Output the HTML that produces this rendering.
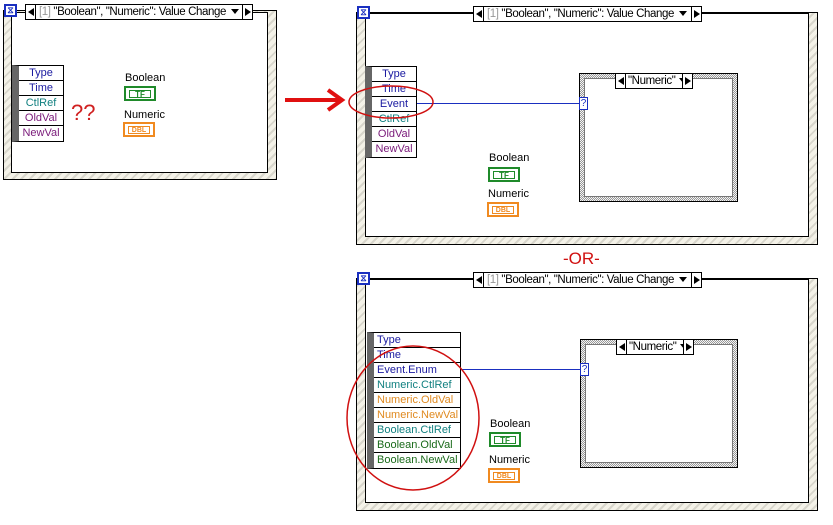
<!DOCTYPE html>
<html><head><meta charset="utf-8"><style>
*{margin:0;padding:0;box-sizing:border-box}
body{width:833px;height:525px;background:#fff;position:relative;overflow:hidden;font-family:"Liberation Sans",sans-serif}
.a{position:absolute}
.frame{position:absolute;border:1px solid #000;background:repeating-linear-gradient(135deg,#f4f2e8 0 4px,#d8d6cc 4px 6px)}
.inner{position:absolute;background:#fff;border:1px solid #000}
.title{position:absolute;height:16px;background:#fff;border:1px solid #000;font-size:11.5px;letter-spacing:-0.4px;line-height:14px;white-space:nowrap;overflow:hidden}
.title .l,.title .r{position:absolute;top:0;width:10px;height:14px;background:#fff}
.title .l{left:0;border-right:1px solid #000}
.title .r{right:0;border-left:1px solid #000}
.title .l:after{content:"";position:absolute;left:2px;top:3px;border-right:6px solid #000;border-top:4px solid transparent;border-bottom:4px solid transparent}
.title .r:after{content:"";position:absolute;left:2px;top:3px;border-left:6px solid #000;border-top:4px solid transparent;border-bottom:4px solid transparent}
.title .t{position:absolute;left:13px;top:0}
.dn{display:inline-block;width:0;height:0;border-top:5px solid #000;border-left:4px solid transparent;border-right:4px solid transparent;margin-left:5px;vertical-align:1px}
.icon{position:absolute;width:13px;height:13px;background:#fff;border:2px solid #1a2fc0;color:#1a2fc0;font-size:9px;line-height:9px;text-align:center;font-weight:bold}
.list{position:absolute;border:1px solid #000;border-left:7px solid #666;background:#fff}
.list div{height:15px;border-bottom:1px solid #000;font-size:11px;line-height:14px;text-align:center;white-space:nowrap}
.list div:last-child{border-bottom:none}
.lbl{position:absolute;font-size:11px}
.tf{position:absolute;width:32px;height:15px;border:2px solid #1f8a2a;background:#fff;}
.tf span{position:absolute;left:3px;top:2px;width:22px;height:8px;border:1px solid #1f8a2a;font-size:8px;font-weight:bold;color:#1f8a2a;line-height:7px;text-align:center}
.dbl{position:absolute;width:32px;height:15px;border:2px solid #f08a20;background:#fff}
.dbl span{position:absolute;left:3px;top:2px;width:22px;height:8px;border:1px solid #f08a20;font-size:7px;font-weight:bold;color:#f08a20;line-height:7px;text-align:center}
.case{position:absolute;border:1px solid #000;background:repeating-conic-gradient(#999 0 25%,#f4f4f4 0 50%) 0 0/2px 2px}
.case i{position:absolute;left:4px;top:4px;right:4px;bottom:4px;background:#fff;border:1px solid #777}
.q{position:absolute;width:9px;height:13px;border:1px solid #1a2fc0;background:#fff;color:#1a2fc0;font-size:10px;line-height:11px;text-align:center}
.wire{position:absolute;height:1px;background:#1a2fc0}
.b{color:#1a1aa0}.c{color:#118080}.p{color:#7a1a7a}.o{color:#e08a20}.g{color:#1a6a1a}
</style></head><body>

<!-- Box 1 -->
<div class="frame" style="left:3px;top:10px;width:274px;height:170px"></div>
<div class="inner" style="left:11px;top:12px;width:257px;height:161px"></div>
<div class="icon" style="left:4px;top:4px">⧖</div>
<div class="a" style="left:17px;top:12px;width:8px;height:1px;background:#000"></div>
<div class="title" style="left:25px;top:4px;width:228px"><div class="l"></div><div class="t"><span style="color:#999">[1]</span> "Boolean", "Numeric": Value Change<span class="dn"></span></div><div class="r"></div></div>
<div class="list" style="left:12px;top:65px;width:52px"><div class="b">Type</div><div class="b">Time</div><div class="c">CtlRef</div><div class="p">OldVal</div><div class="p">NewVal</div></div>
<div class="a" style="left:71px;top:100px;font-size:22px;color:#d02020">??</div>
<div class="lbl" style="left:125px;top:72px">Boolean</div>
<div class="tf" style="left:124px;top:86px"><span>TF</span></div>
<div class="lbl" style="left:124px;top:109px">Numeric</div>
<div class="dbl" style="left:123px;top:122px"><span>DBL</span></div>

<!-- arrow -->
<svg class="a" style="left:280px;top:85px" width="70" height="30"><line x1="5" y1="15" x2="60" y2="15" stroke="#e01010" stroke-width="4"/><polyline points="48,5 62,15 48,25" fill="none" stroke="#e01010" stroke-width="4"/></svg>

<!-- Box 2 -->
<div class="frame" style="left:356px;top:12px;width:462px;height:233px"></div>
<div class="inner" style="left:365px;top:13px;width:444px;height:224px"></div>
<div class="icon" style="left:357px;top:6px">⧖</div>
<div class="title" style="left:473px;top:6px;width:229px"><div class="l"></div><div class="t"><span style="color:#999">[1]</span> "Boolean", "Numeric": Value Change<span class="dn"></span></div><div class="r"></div></div>
<div class="list" style="left:365px;top:66px;width:52px"><div class="b">Type</div><div class="b">Time</div><div class="b">Event</div><div class="c">CtlRef</div><div class="p">OldVal</div><div class="p">NewVal</div></div>
<div class="wire" style="left:417px;top:103px;width:163px"></div>
<div class="case" style="left:579px;top:73px;width:159px;height:129px"><i></i></div>
<div class="title" style="left:615px;top:73px;width:78px"><div class="l"></div><div class="t" style="left:12px">"Numeric"<span class="dn" style="margin-left:4px"></span></div><div class="r"></div></div>
<div class="q" style="left:579px;top:97px">?</div>
<div class="lbl" style="left:489px;top:152px">Boolean</div>
<div class="tf" style="left:488px;top:167px"><span>TF</span></div>
<div class="lbl" style="left:488px;top:188px">Numeric</div>
<div class="dbl" style="left:487px;top:202px"><span>DBL</span></div>
<svg class="a" style="left:345px;top:82px" width="95" height="40"><ellipse cx="46" cy="20" rx="42" ry="16" fill="none" stroke="#d01010" stroke-width="1.5"/></svg>

<div class="a" style="left:563px;top:249px;font-size:17px;color:#d01010">-OR-</div>

<!-- Box 3 -->
<div class="frame" style="left:356px;top:278px;width:462px;height:233px"></div>
<div class="inner" style="left:365px;top:279px;width:444px;height:224px"></div>
<div class="icon" style="left:357px;top:272px">⧖</div>
<div class="title" style="left:473px;top:272px;width:229px"><div class="l"></div><div class="t"><span style="color:#999">[1]</span> "Boolean", "Numeric": Value Change<span class="dn"></span></div><div class="r"></div></div>
<div class="list" style="left:367px;top:332px;width:94px"><div class="b" style="text-align:left;padding-left:3px">Type</div><div class="b" style="text-align:left;padding-left:3px">Time</div><div class="b" style="text-align:left;padding-left:3px">Event.Enum</div><div class="c" style="text-align:left;padding-left:3px">Numeric.CtlRef</div><div class="o" style="text-align:left;padding-left:3px">Numeric.OldVal</div><div class="o" style="text-align:left;padding-left:3px">Numeric.NewVal</div><div class="c" style="text-align:left;padding-left:3px">Boolean.CtlRef</div><div class="g" style="text-align:left;padding-left:3px">Boolean.OldVal</div><div class="g" style="text-align:left;padding-left:3px">Boolean.NewVal</div></div>
<div class="wire" style="left:461px;top:369px;width:120px"></div>
<div class="case" style="left:580px;top:339px;width:158px;height:129px"><i></i></div>
<div class="title" style="left:616px;top:339px;width:78px"><div class="l"></div><div class="t" style="left:12px">"Numeric"<span class="dn" style="margin-left:4px"></span></div><div class="r"></div></div>
<div class="q" style="left:580px;top:363px">?</div>
<div class="lbl" style="left:490px;top:418px">Boolean</div>
<div class="tf" style="left:489px;top:432px"><span>TF</span></div>
<div class="lbl" style="left:489px;top:454px">Numeric</div>
<div class="dbl" style="left:488px;top:468px"><span>DBL</span></div>
<svg class="a" style="left:345px;top:344px" width="140" height="150"><ellipse cx="68" cy="74" rx="66" ry="72" fill="none" stroke="#d01010" stroke-width="1.5"/></svg>
</body></html>
